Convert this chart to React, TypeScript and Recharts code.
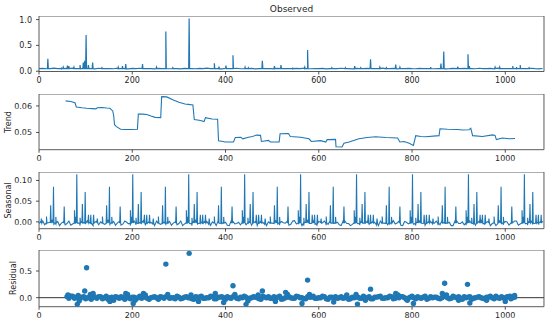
import React from 'react';
import { ComposedChart, Line, Scatter, XAxis, YAxis, ReferenceArea } from 'recharts';

const X_MAX = 1083;
const xTicks = [0, 200, 400, 600, 800, 1000];
const BLUE = '#1f77b4';
const FRAME = '#5a5a5a';
const TEXT = '#262626';
const FONT = 'DejaVu Sans';

// ---------- Observed ----------
// baseline samples, x = 0, 8, 16, ... 1080
const observedBase = [
  0.05, 0.056, 0.048, 0.052, 0.06, 0.05, 0.047, 0.055,
  0.05, 0.062, 0.05, 0.048, 0.055, 0.05, 0.052, 0.047,
  0.058, 0.05, 0.05, 0.053, 0.048, 0.06, 0.05, 0.052,
  0.047, 0.055, 0.05, 0.058, 0.049, 0.052, 0.05, 0.046,
  0.054, 0.05, 0.06, 0.048, 0.052, 0.05, 0.047, 0.056,
  0.05, 0.052, 0.048, 0.055, 0.05, 0.062, 0.049, 0.05,
  0.053, 0.047, 0.056, 0.05, 0.05, 0.058, 0.048, 0.052,
  0.05, 0.055, 0.047, 0.05, 0.06, 0.05, 0.052, 0.048,
  0.056, 0.05, 0.049, 0.053, 0.047, 0.055, 0.05, 0.06,
  0.05, 0.048, 0.052, 0.05, 0.056, 0.047, 0.05, 0.053,
  0.049, 0.058, 0.05, 0.052, 0.047, 0.055, 0.05, 0.05,
  0.057, 0.048, 0.052, 0.05, 0.06, 0.049, 0.05, 0.054,
  0.047, 0.052, 0.05, 0.056, 0.05, 0.048, 0.055, 0.05,
  0.052, 0.06, 0.048, 0.05, 0.054, 0.047, 0.05, 0.057,
  0.05, 0.049, 0.055, 0.05, 0.052, 0.048, 0.058, 0.05,
  0.05, 0.054, 0.047, 0.06, 0.05, 0.052, 0.05, 0.056,
  0.048, 0.055, 0.05, 0.052, 0.058, 0.05, 0.047, 0.053,
];
const observedSpikes: [number, number][] = [
  [19, 0.24], [48, 0.07], [52, 0.08], [61, 0.11], [64, 0.1], [75, 0.08], [88, 0.12], [95, 0.17],
  [98, 0.2], [101, 0.7], [106, 0.12], [115, 0.17], [135, 0.07], [170, 0.08], [179, 0.1], [186, 0.14],
  [222, 0.14], [252, 0.08], [272, 0.77], [287, 0.07], [322, 1.02], [376, 0.155], [386, 0.09],
  [401, 0.11], [416, 0.31], [442, 0.08], [449, 0.07], [479, 0.2], [505, 0.1], [519, 0.12],
  [544, 0.07], [570, 0.08], [576, 0.41], [628, 0.07], [657, 0.07], [677, 0.1], [690, 0.07],
  [711, 0.23], [731, 0.08], [745, 0.07], [765, 0.13], [774, 0.08], [840, 0.08], [862, 0.15],
  [868, 0.38], [898, 0.09], [920, 0.33], [923, 0.1], [978, 0.08], [988, 0.08], [1016, 0.1],
  [1024, 0.08], [1032, 0.12], [1051, 0.07],
];

// ---------- Trend ----------
const trendPoints: [number, number][] = [
  [57, 0.0619], [68, 0.0617], [77, 0.0612], [80, 0.0596], [92, 0.0593], [102, 0.0591], [115, 0.059],
  [122, 0.0589], [125, 0.0593], [135, 0.0594], [145, 0.0592], [152, 0.0591], [158, 0.0581],
  [160, 0.0565], [162, 0.0529], [166, 0.0522], [175, 0.0512], [185, 0.0511], [195, 0.0511],
  [211, 0.0512], [213, 0.0569], [222, 0.0569], [231, 0.0568], [240, 0.0562], [249, 0.0557],
  [261, 0.0556], [263, 0.0635], [274, 0.0634], [288, 0.0622], [300, 0.0614], [313, 0.0607],
  [320, 0.0606], [330, 0.0604], [333, 0.0549], [340, 0.0547], [346, 0.0545], [354, 0.0541],
  [357, 0.0556], [371, 0.0551], [383, 0.055], [385, 0.0469], [392, 0.0467], [399, 0.0464],
  [417, 0.0464], [421, 0.0481], [433, 0.0482], [437, 0.0476], [449, 0.0482], [458, 0.0485],
  [466, 0.049], [475, 0.0489], [477, 0.0466], [492, 0.047], [496, 0.0464], [507, 0.0464],
  [515, 0.0464], [517, 0.0495], [535, 0.0496], [539, 0.0485], [561, 0.0482], [579, 0.0476],
  [584, 0.0466], [604, 0.0469], [615, 0.0464], [618, 0.0473], [636, 0.0474], [637, 0.0446],
  [650, 0.0445], [654, 0.0459], [665, 0.0464], [686, 0.0476], [704, 0.0481], [722, 0.0484],
  [744, 0.0481], [769, 0.0479], [774, 0.0464], [783, 0.0466], [794, 0.0459], [803, 0.0451],
  [808, 0.0488], [819, 0.0485], [829, 0.0484], [858, 0.0488], [860, 0.0514], [876, 0.0512],
  [898, 0.0511], [908, 0.0509], [922, 0.051], [926, 0.0516], [930, 0.0488], [951, 0.0485],
  [973, 0.0491], [978, 0.0489], [981, 0.0473], [994, 0.0479], [1009, 0.0476], [1021, 0.0477],
];

// ---------- Seasonal ----------
// baseline samples, x = 0, 8, 16, ... 1080
const seasonalBase = [
  -0.004, 0.002, -0.006, -0.001, -0.008, 0.001, -0.003, -0.007,
  0.002, -0.005, 0.001, -0.009, -0.002, 0.003, -0.006, -0.001,
  -0.007, 0.002, -0.004, -0.009, 0.001, -0.003, -0.008, 0.002,
  -0.005, 0.001, -0.007, -0.002, 0.003, -0.006, -0.001, -0.009,
  0.002, -0.004, -0.008, 0.001, -0.003, -0.007, 0.002, -0.005,
  -0.001, -0.009, 0.003, -0.004, -0.006, 0.001, -0.008, -0.002,
  0.002, -0.006, -0.001, -0.009, 0.001, -0.004, -0.007, 0.003,
  -0.003, -0.008, 0.001, -0.005, -0.001, -0.009, 0.002, -0.004,
  -0.007, 0.001, -0.003, -0.008, 0.002, -0.005, -0.001, -0.009,
  0.003, -0.004, -0.007, 0.001, -0.002, -0.008, 0.002, -0.005,
  -0.001, -0.009, 0.002, -0.004, -0.006, 0.001, -0.008, -0.003,
  0.002, -0.005, -0.001, -0.009, 0.001, -0.004, -0.007, 0.003,
  -0.003, -0.008, 0.001, -0.005, -0.002, -0.009, 0.002, -0.004,
  -0.006, 0.001, -0.003, -0.008, 0.002, -0.005, -0.001, -0.009,
  0.002, -0.004, -0.007, 0.001, -0.003, -0.008, 0.002, -0.006,
  -0.001, -0.009, 0.002, -0.004, -0.006, 0.001, -0.008, -0.002,
  0.002, -0.005, -0.001, -0.008, 0.001, -0.004, -0.007, 0.002,
];
// baseline samples, x = 4, 12, 20, ... 1076
const seasonalBase2 = [
  0.001, -0.007, -0.002, 0.003, -0.005, -0.009, 0.0, -0.004,
  -0.008, 0.001, -0.003, 0.002, -0.006, -0.001, -0.009, 0.002,
  0.0, -0.006, 0.003, -0.002, -0.008, 0.001, -0.005, -0.001,
  -0.009, 0.002, -0.004, 0.001, -0.007, 0.0, -0.005, 0.002,
  -0.006, -0.001, 0.003, -0.008, 0.0, -0.004, -0.009, 0.001,
  -0.005, 0.002, -0.007, -0.001, 0.002, -0.006, 0.0, -0.009,
  -0.004, 0.001, -0.008, 0.002, -0.005, -0.001, 0.003, -0.007,
  0.001, -0.004, -0.009, 0.002, -0.006, 0.0, -0.003, 0.002,
  -0.008, -0.002, 0.001, -0.006, 0.003, -0.004, -0.009, 0.0,
  -0.005, 0.002, -0.008, -0.001, 0.002, -0.006, -0.003, 0.001,
  -0.007, 0.002, -0.004, -0.009, 0.0, -0.005, 0.002, -0.001,
  -0.006, 0.001, -0.008, 0.002, -0.003, -0.007, 0.001, -0.005,
  0.002, -0.009, -0.001, 0.003, -0.006, 0.0, -0.004, -0.008,
  0.001, -0.005, 0.002, -0.007, -0.002, 0.001, -0.009, 0.002,
  -0.004, 0.0, -0.008, 0.002, -0.005, -0.001, 0.003, -0.006,
  0.001, -0.004, -0.009, 0.002, -0.007, 0.0, -0.003, 0.002,
  -0.008, 0.001, -0.005, 0.002, -0.006, -0.001, 0.001,
];
const seasonalSpikes: [number, number][] = [
  [5, 0.008], [16, 0.013],
  [25, 0.04], [31, 0.085], [36, 0.012], [54, 0.037], [76, 0.028], [79, 0.012], [81, 0.115], [88, 0.01], [93, 0.043], [99, 0.072], [106, 0.017], [111, 0.017], [117, 0.017], [125, 0.008], [136, 0.013],
  [145, 0.04], [151, 0.085], [156, 0.012], [174, 0.037], [196, 0.028], [199, 0.012], [201, 0.115], [208, 0.01], [213, 0.043], [219, 0.072], [226, 0.017], [231, 0.017], [237, 0.017], [245, 0.008], [256, 0.013],
  [265, 0.04], [271, 0.085], [276, 0.012], [294, 0.037], [316, 0.028], [319, 0.012], [321, 0.115], [328, 0.01], [333, 0.043], [339, 0.072], [346, 0.017], [351, 0.017], [357, 0.017], [365, 0.008], [376, 0.013],
  [385, 0.04], [391, 0.085], [396, 0.012], [414, 0.037], [436, 0.028], [439, 0.012], [441, 0.115], [448, 0.01], [453, 0.043], [459, 0.072], [466, 0.017], [471, 0.017], [477, 0.017], [485, 0.008], [496, 0.013],
  [505, 0.04], [511, 0.085], [516, 0.012], [534, 0.037], [556, 0.028], [559, 0.012], [561, 0.115], [568, 0.01], [573, 0.043], [579, 0.072], [586, 0.017], [591, 0.017], [597, 0.017], [605, 0.008], [616, 0.013],
  [625, 0.04], [631, 0.085], [636, 0.012], [654, 0.037], [676, 0.028], [679, 0.012], [681, 0.115], [688, 0.01], [693, 0.043], [699, 0.072], [706, 0.017], [711, 0.017], [717, 0.017], [725, 0.008], [736, 0.013],
  [745, 0.04], [751, 0.085], [756, 0.012], [774, 0.037], [796, 0.028], [799, 0.012], [801, 0.115], [808, 0.01], [813, 0.043], [819, 0.072], [826, 0.017], [831, 0.017], [837, 0.017], [845, 0.008], [856, 0.013],
  [865, 0.04], [871, 0.085], [876, 0.012], [894, 0.037], [916, 0.028], [919, 0.012], [921, 0.115], [928, 0.01], [933, 0.043], [939, 0.072], [946, 0.017], [951, 0.017], [957, 0.017], [965, 0.008], [976, 0.013],
  [985, 0.04], [991, 0.085], [996, 0.012], [1014, 0.037], [1036, 0.028], [1039, 0.012], [1041, 0.115], [1048, 0.01], [1053, 0.043], [1059, 0.072], [1066, 0.017], [1071, 0.017], [1077, 0.017],
];

// ---------- Residual ----------
// band samples, x = 60, 68, 76, ... 1020
const residualBand = [
  0.02, 0.03, -0.01, 0.04, 0.01, -0.02, 0.0, 0.03,
  -0.01, 0.02, 0.0, -0.03, 0.01, 0.02, -0.01, 0.0,
  0.03, -0.02, 0.01, 0.0, -0.01, 0.02, -0.03, 0.01,
  0.0, 0.02, -0.01, 0.03, 0.0, -0.02, 0.01, -0.01,
  0.02, 0.0, -0.03, 0.01, 0.03, -0.01, 0.0, 0.02,
  -0.02, 0.01, 0.0, 0.02, -0.01, 0.03, -0.02, 0.0,
  0.01, -0.01, 0.02, 0.0, -0.03, 0.01, 0.02, -0.01,
  0.0, 0.03, -0.02, 0.01, 0.0, -0.01, 0.02, 0.0,
  -0.02, 0.01, 0.03, -0.01, 0.0, 0.02, -0.03, 0.01,
  0.02, 0.0, -0.01, 0.03, -0.02, 0.0, 0.01, -0.01,
  0.0, 0.02, -0.02, 0.01, 0.03, -0.01, 0.0, 0.02,
  -0.01, 0.0, 0.02, -0.03, 0.01, 0.0, 0.02, -0.01,
  0.03, -0.01, 0.0, 0.01, -0.02, 0.02, 0.0, -0.01,
  0.01, 0.02, -0.03, 0.0, 0.02, -0.01, 0.01, 0.0,
  -0.02, 0.01, 0.0, 0.03, -0.01, 0.0, 0.02, -0.02,
  0.01,
];
// band samples, x = 64, 72, 80, ... 1016
const residualBand2 = [
  -0.01, 0.03, 0.01, -0.02, 0.02, 0.0, -0.03, 0.01,
  0.02, -0.02, 0.03, 0.0, -0.01, 0.01, 0.02, -0.03,
  0.0, 0.01, -0.02, 0.03, 0.01, -0.01, 0.0, 0.02,
  -0.03, 0.01, 0.02, -0.01, 0.0, 0.03, -0.02, 0.01,
  0.0, -0.02, 0.02, 0.01, -0.01, 0.0, 0.03, -0.02,
  0.01, 0.02, -0.03, 0.0, 0.02, -0.01, 0.01, 0.03,
  -0.02, 0.0, 0.01, -0.02, 0.03, 0.0, -0.01, 0.02,
  0.01, -0.03, 0.0, 0.02, -0.01, 0.03, 0.0, -0.02,
  0.02, 0.01, -0.01, 0.0, 0.03, -0.02, 0.01, 0.0,
  -0.01, 0.02, 0.0, -0.03, 0.01, 0.02, -0.01, 0.03,
  0.0, -0.02, 0.01, 0.02, -0.01, 0.0, 0.03, -0.02,
  0.01, 0.02, 0.0, -0.01, 0.03, -0.02, 0.0, 0.01,
  -0.03, 0.02, 0.01, -0.01, 0.0, 0.02, -0.02, 0.03,
  0.0, -0.01, 0.02, 0.01, -0.03, 0.0, 0.02, -0.01,
  0.01, 0.03, -0.02, 0.0, 0.02, -0.01, 0.01, 0.0,
];
const residualExtra: [number, number][] = [
  [62, 0.05], [66, 0.03], [82, -0.125], [86, -0.06], [98, 0.125], [102, 0.56], [110, 0.06],
  [116, 0.08], [152, -0.07], [160, -0.05], [186, 0.08], [190, 0.06], [202, -0.11], [206, -0.05],
  [224, 0.08], [228, 0.05], [272, 0.63], [276, 0.06], [322, 0.83], [326, 0.05], [342, -0.07],
  [378, 0.08], [396, -0.09], [416, 0.225], [420, 0.06], [444, -0.125], [448, -0.06], [470, 0.05],
  [479, 0.125], [507, -0.07], [529, 0.1], [533, 0.06], [564, -0.11], [576, 0.33], [580, 0.06],
  [632, -0.08], [660, 0.05], [680, 0.06], [683, -0.12], [700, -0.05], [711, 0.16], [765, 0.08],
  [770, 0.05], [790, -0.05], [803, -0.11], [865, 0.08], [870, 0.27], [874, 0.05], [900, -0.05],
  [919, 0.25], [924, -0.1], [960, -0.05], [1000, -0.07], [1010, 0.03], [1020, 0.04],
];
const zeroLine = [{ x: 0, y: 0 }, { x: X_MAX, y: 0 }];

// ---------- helpers ----------
function samples(base: number[], start: number, step: number) {
  return base.map((y, i) => ({ x: start + i * step, y }));
}
function spikeSeries(pts: { x: number; y: number }[], spikes: [number, number][], shoulder: number) {
  const out = [...pts];
  spikes.forEach(([x, h]) => {
    out.push({ x: x - 1, y: shoulder }, { x, y: h }, { x: x + 1, y: shoulder });
  });
  out.sort((a, b) => a.x - b.x);
  return out;
}

const observedData = spikeSeries(samples(observedBase, 0, 8), observedSpikes, 0.05);
const seasonalData = spikeSeries(
  [...samples(seasonalBase, 0, 8), ...samples(seasonalBase2, 4, 8)],
  seasonalSpikes,
  -0.003,
);
const trendData = trendPoints.map(([x, y]) => ({ x, y }));
const residualData = [
  ...samples(residualBand, 60, 8),
  ...samples(residualBand2, 64, 8),
  ...residualExtra.map(([x, y]) => ({ x, y })),
];

const tickStyle = { fontSize: 8, fill: TEXT, fontFamily: FONT };

type PanelProps = {
  top: number;
  plotHeight: number;
  domain: [number, number];
  yTicks: number[];
  fmt: (v: number) => string;
  children: React.ReactNode;
};

function Panel({ top, plotHeight, domain, yTicks, fmt, children }: PanelProps) {
  const xAxisH = 22;
  return (
    <div style={{ position: 'absolute', left: 0, top }}>
      <ComposedChart
        width={550}
        height={plotHeight + xAxisH}
        margin={{ top: 0, right: 6, bottom: 0, left: 0 }}
      >
        <XAxis
          xAxisId="b"
          dataKey="x"
          type="number"
          domain={[0, X_MAX]}
          ticks={xTicks}
          allowDataOverflow
          height={xAxisH}
          tick={tickStyle}
          tickSize={3}
          tickMargin={3}
          axisLine={false}
          tickLine={{ stroke: TEXT, strokeWidth: 0.8 }}
        />
        <YAxis
          yAxisId="l"
          dataKey="y"
          type="number"
          domain={domain}
          ticks={yTicks}
          allowDataOverflow
          width={39}
          tick={tickStyle}
          tickFormatter={fmt}
          tickSize={3}
          tickMargin={4}
          axisLine={false}
          tickLine={{ stroke: TEXT, strokeWidth: 0.8 }}
        />
        {children}
        <ReferenceArea
          xAxisId="b"
          yAxisId="l"
          x1={0}
          x2={X_MAX}
          y1={domain[0]}
          y2={domain[1]}
          fill="none"
          fillOpacity={0}
          stroke={FRAME}
          strokeWidth={1}
          ifOverflow="visible"
        />
      </ComposedChart>
    </div>
  );
}

const f1 = (v: number) => v.toFixed(1);
const f2 = (v: number) => v.toFixed(2);

export default function App() {
  return (
    <div style={{ position: 'absolute', left: 0, top: 0, width: 550, height: 326, background: '#fff' }}>
      <Panel top={16} plotHeight={55.5} domain={[-0.005, 1.069]} yTicks={[0, 0.5, 1.0]} fmt={f1}>
        <Line xAxisId="b" yAxisId="l" data={observedData} dataKey="y" type="linear" stroke={BLUE}
          strokeWidth={1.2} dot={false} activeDot={false} isAnimationActive={false} />
      </Panel>
      <Panel top={94.3} plotHeight={55.7} domain={[0.0435, 0.0645]} yTicks={[0.05, 0.06]} fmt={f2}>
        <Line xAxisId="b" yAxisId="l" data={trendData} dataKey="y" type="linear" stroke={BLUE}
          strokeWidth={1.1} dot={false} activeDot={false} isAnimationActive={false} />
      </Panel>
      <Panel top={172.3} plotHeight={56.7} domain={[-0.0165, 0.1205]} yTicks={[0, 0.05, 0.1]} fmt={f2}>
        <Line xAxisId="b" yAxisId="l" data={seasonalData} dataKey="y" type="linear" stroke={BLUE}
          strokeWidth={1.1} dot={false} activeDot={false} isAnimationActive={false} />
      </Panel>
      <Panel top={250} plotHeight={56.7} domain={[-0.169, 0.894]} yTicks={[0, 0.5]} fmt={f1}>
        <Line xAxisId="b" yAxisId="l" data={zeroLine} dataKey="y" type="linear" stroke="#333"
          strokeWidth={1} dot={false} activeDot={false} isAnimationActive={false} />
        <Scatter xAxisId="b" yAxisId="l" data={residualData} dataKey="y" fill={BLUE} isAnimationActive={false}
          shape={(p: any) => <circle cx={p.cx} cy={p.cy} r={2.7} fill={BLUE} />} />
      </Panel>
      <svg width={550} height={326} style={{ position: 'absolute', left: 0, top: 0, pointerEvents: 'none' }}>
        <text x={291.5} y={11.5} textAnchor="middle" fontSize={9} fill={TEXT} fontFamily={FONT}>Observed</text>
        <text transform="translate(11,122) rotate(-90)" textAnchor="middle" fontSize={8} fill={TEXT} fontFamily={FONT}>Trend</text>
        <text transform="translate(11,200.5) rotate(-90)" textAnchor="middle" fontSize={8} fill={TEXT} fontFamily={FONT}>Seasonal</text>
        <text transform="translate(16,278) rotate(-90)" textAnchor="middle" fontSize={8} fill={TEXT} fontFamily={FONT}>Residual</text>
      </svg>
    </div>
  );
}
